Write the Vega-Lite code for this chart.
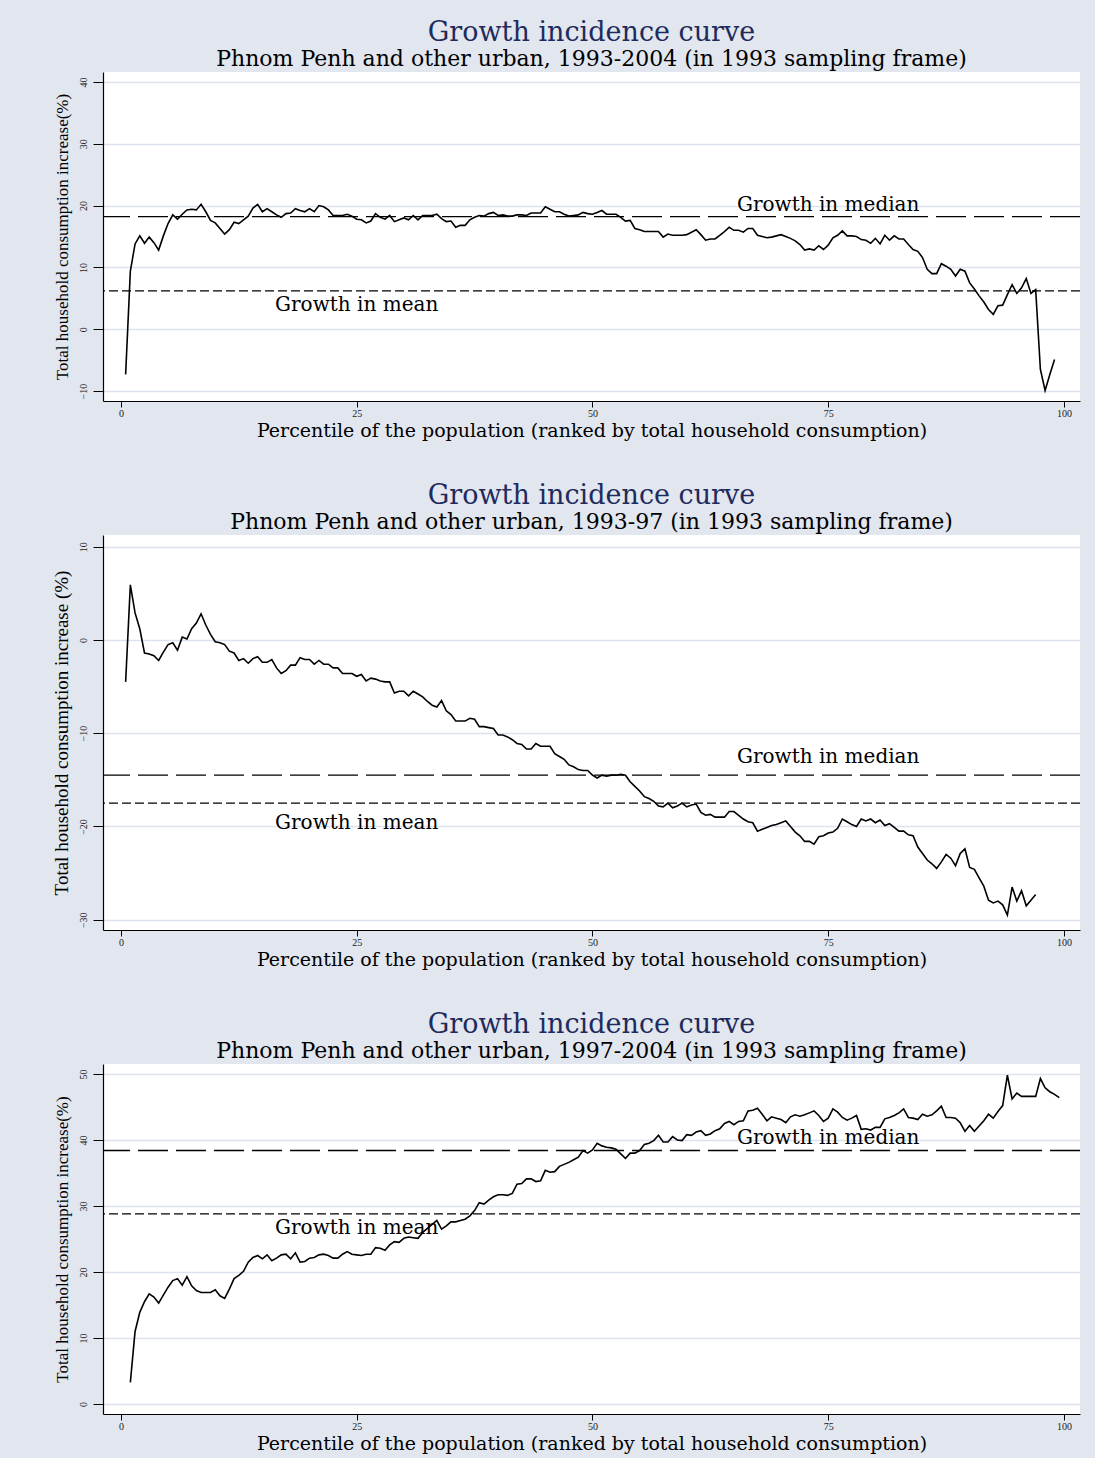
{
  "$schema": "https://vega.github.io/schema/vega-lite/v6.json",
  "background": "#e1e6ef",
  "padding": {"left": 52, "top": 19, "right": 14, "bottom": 5},
  "spacing": 42,
  "datasets": {
    "gic_9304": [
      {"p":0.5,"g":-7.3},{"p":1,"g":9.4},{"p":1.5,"g":13.8},{"p":2,"g":15.1},{"p":2.5,"g":13.9},{"p":3,"g":14.9},{"p":3.5,"g":14.0},{"p":4,"g":12.8},{"p":4.5,"g":15.1},{"p":5,"g":17.1},
      {"p":5.5,"g":18.5},{"p":6,"g":17.8},{"p":6.5,"g":18.6},{"p":7,"g":19.3},{"p":7.5,"g":19.4},{"p":8,"g":19.3},{"p":8.5,"g":20.2},{"p":9,"g":19.0},{"p":9.5,"g":17.6},{"p":10,"g":17.2},
      {"p":10.5,"g":16.3},{"p":11,"g":15.4},{"p":11.5,"g":16.1},{"p":12,"g":17.3},{"p":12.5,"g":17.1},{"p":13,"g":17.7},{"p":13.5,"g":18.3},{"p":14,"g":19.6},{"p":14.5,"g":20.2},{"p":15,"g":19.0},
      {"p":15.5,"g":19.5},{"p":16,"g":19.0},{"p":16.5,"g":18.5},{"p":17,"g":18.1},{"p":17.5,"g":18.7},{"p":18,"g":18.8},{"p":18.5,"g":19.5},{"p":19,"g":19.2},{"p":19.5,"g":19.0},{"p":20,"g":19.5},
      {"p":20.5,"g":19.0},{"p":21,"g":20.0},{"p":21.5,"g":19.8},{"p":22,"g":19.3},{"p":22.5,"g":18.4},{"p":23,"g":18.4},{"p":23.5,"g":18.4},{"p":24,"g":18.6},{"p":24.5,"g":18.3},{"p":25,"g":17.8},
      {"p":25.5,"g":17.7},{"p":26,"g":17.2},{"p":26.5,"g":17.5},{"p":27,"g":18.7},{"p":27.5,"g":18.1},{"p":28,"g":17.8},{"p":28.5,"g":18.4},{"p":29,"g":17.4},{"p":29.5,"g":17.7},{"p":30,"g":18.0},
      {"p":30.5,"g":17.7},{"p":31,"g":18.4},{"p":31.5,"g":17.7},{"p":32,"g":18.4},{"p":32.5,"g":18.4},{"p":33,"g":18.4},{"p":33.5,"g":18.6},{"p":34,"g":17.9},{"p":34.5,"g":17.4},{"p":35,"g":17.5},
      {"p":35.5,"g":16.5},{"p":36,"g":16.8},{"p":36.5,"g":16.8},{"p":37,"g":17.7},{"p":37.5,"g":18.1},{"p":38,"g":18.4},{"p":38.5,"g":18.3},{"p":39,"g":18.7},{"p":39.5,"g":18.9},{"p":40,"g":18.4},
      {"p":40.5,"g":18.5},{"p":41,"g":18.3},{"p":41.5,"g":18.3},{"p":42,"g":18.5},{"p":42.5,"g":18.5},{"p":43,"g":18.4},{"p":43.5,"g":18.8},{"p":44,"g":18.8},{"p":44.5,"g":18.8},{"p":45,"g":19.8},
      {"p":45.5,"g":19.4},{"p":46,"g":19.0},{"p":46.5,"g":19.0},{"p":47,"g":18.6},{"p":47.5,"g":18.3},{"p":48,"g":18.4},{"p":48.5,"g":18.5},{"p":49,"g":18.9},{"p":49.5,"g":18.7},{"p":50,"g":18.6},
      {"p":50.5,"g":18.9},{"p":51,"g":19.2},{"p":51.5,"g":18.6},{"p":52,"g":18.6},{"p":52.5,"g":18.6},{"p":53,"g":18.1},{"p":53.5,"g":17.5},{"p":54,"g":17.6},{"p":54.5,"g":16.3},{"p":55,"g":16.1},
      {"p":55.5,"g":15.8},{"p":56,"g":15.8},{"p":56.5,"g":15.8},{"p":57,"g":15.8},{"p":57.5,"g":14.9},{"p":58,"g":15.4},{"p":58.5,"g":15.2},{"p":59,"g":15.2},{"p":59.5,"g":15.2},{"p":60,"g":15.3},
      {"p":60.5,"g":15.7},{"p":61,"g":16.1},{"p":61.5,"g":15.3},{"p":62,"g":14.4},{"p":62.5,"g":14.6},{"p":63,"g":14.6},{"p":63.5,"g":15.2},{"p":64,"g":15.8},{"p":64.5,"g":16.5},{"p":65,"g":16.0},
      {"p":65.5,"g":16.0},{"p":66,"g":15.7},{"p":66.5,"g":16.3},{"p":67,"g":16.3},{"p":67.5,"g":15.2},{"p":68,"g":15.0},{"p":68.5,"g":14.8},{"p":69,"g":14.9},{"p":69.5,"g":15.1},{"p":70,"g":15.3},
      {"p":70.5,"g":15.0},{"p":71,"g":14.7},{"p":71.5,"g":14.3},{"p":72,"g":13.7},{"p":72.5,"g":12.8},{"p":73,"g":13.0},{"p":73.5,"g":12.8},{"p":74,"g":13.5},{"p":74.5,"g":12.9},{"p":75,"g":13.6},
      {"p":75.5,"g":14.8},{"p":76,"g":15.2},{"p":76.5,"g":15.9},{"p":77,"g":15.1},{"p":77.5,"g":15.1},{"p":78,"g":15.0},{"p":78.5,"g":14.5},{"p":79,"g":14.4},{"p":79.5,"g":13.9},{"p":80,"g":14.7},
      {"p":80.5,"g":13.8},{"p":81,"g":15.2},{"p":81.5,"g":14.4},{"p":82,"g":15.1},{"p":82.5,"g":14.6},{"p":83,"g":14.6},{"p":83.5,"g":13.7},{"p":84,"g":12.9},{"p":84.5,"g":12.6},{"p":85,"g":11.6},
      {"p":85.5,"g":9.7},{"p":86,"g":9.0},{"p":86.5,"g":9.0},{"p":87,"g":10.6},{"p":87.5,"g":10.2},{"p":88,"g":9.7},{"p":88.5,"g":8.6},{"p":89,"g":9.7},{"p":89.5,"g":9.4},{"p":90,"g":7.5},
      {"p":90.5,"g":6.5},{"p":91,"g":5.4},{"p":91.5,"g":4.4},{"p":92,"g":3.2},{"p":92.5,"g":2.4},{"p":93,"g":3.8},{"p":93.5,"g":3.9},{"p":94,"g":5.6},{"p":94.5,"g":7.2},{"p":95,"g":5.8},
      {"p":95.5,"g":6.7},{"p":96,"g":8.2},{"p":96.5,"g":5.8},{"p":97,"g":6.4},{"p":97.5,"g":-6.5},{"p":98,"g":-9.9},{"p":98.5,"g":-7.3},{"p":99,"g":-4.9}
    ],
    "gic_9397": [
      {"p":0.5,"g":-4.5},{"p":1,"g":5.9},{"p":1.5,"g":2.9},{"p":2,"g":1.2},{"p":2.5,"g":-1.4},{"p":3,"g":-1.5},{"p":3.5,"g":-1.7},{"p":4,"g":-2.2},{"p":4.5,"g":-1.3},{"p":5,"g":-0.5},
      {"p":5.5,"g":-0.3},{"p":6,"g":-1.1},{"p":6.5,"g":0.3},{"p":7,"g":0.1},{"p":7.5,"g":1.2},{"p":8,"g":1.8},{"p":8.5,"g":2.8},{"p":9,"g":1.6},{"p":9.5,"g":0.6},{"p":10,"g":-0.2},
      {"p":10.5,"g":-0.3},{"p":11,"g":-0.5},{"p":11.5,"g":-1.2},{"p":12,"g":-1.4},{"p":12.5,"g":-2.2},{"p":13,"g":-2.0},{"p":13.5,"g":-2.5},{"p":14,"g":-2.0},{"p":14.5,"g":-1.8},{"p":15,"g":-2.4},
      {"p":15.5,"g":-2.4},{"p":16,"g":-2.1},{"p":16.5,"g":-3.0},{"p":17,"g":-3.6},{"p":17.5,"g":-3.3},{"p":18,"g":-2.7},{"p":18.5,"g":-2.7},{"p":19,"g":-1.9},{"p":19.5,"g":-2.1},{"p":20,"g":-2.1},
      {"p":20.5,"g":-2.6},{"p":21,"g":-2.2},{"p":21.5,"g":-2.6},{"p":22,"g":-2.6},{"p":22.5,"g":-3.0},{"p":23,"g":-3.0},{"p":23.5,"g":-3.6},{"p":24,"g":-3.6},{"p":24.5,"g":-3.6},{"p":25,"g":-3.9},
      {"p":25.5,"g":-3.7},{"p":26,"g":-4.4},{"p":26.5,"g":-4.1},{"p":27,"g":-4.2},{"p":27.5,"g":-4.4},{"p":28,"g":-4.5},{"p":28.5,"g":-4.5},{"p":29,"g":-5.7},{"p":29.5,"g":-5.5},{"p":30,"g":-5.5},
      {"p":30.5,"g":-6.0},{"p":31,"g":-5.5},{"p":31.5,"g":-5.8},{"p":32,"g":-6.1},{"p":32.5,"g":-6.6},{"p":33,"g":-7.0},{"p":33.5,"g":-7.2},{"p":34,"g":-6.5},{"p":34.5,"g":-7.6},{"p":35,"g":-8.0},
      {"p":35.5,"g":-8.7},{"p":36,"g":-8.7},{"p":36.5,"g":-8.7},{"p":37,"g":-8.4},{"p":37.5,"g":-8.5},{"p":38,"g":-9.3},{"p":38.5,"g":-9.3},{"p":39,"g":-9.4},{"p":39.5,"g":-9.5},{"p":40,"g":-10.2},
      {"p":40.5,"g":-10.2},{"p":41,"g":-10.4},{"p":41.5,"g":-10.7},{"p":42,"g":-11.1},{"p":42.5,"g":-11.2},{"p":43,"g":-11.7},{"p":43.5,"g":-11.7},{"p":44,"g":-11.1},{"p":44.5,"g":-11.4},{"p":45,"g":-11.4},
      {"p":45.5,"g":-11.4},{"p":46,"g":-12.2},{"p":46.5,"g":-12.5},{"p":47,"g":-12.8},{"p":47.5,"g":-13.4},{"p":48,"g":-13.6},{"p":48.5,"g":-13.9},{"p":49,"g":-14.0},{"p":49.5,"g":-14.0},{"p":50,"g":-14.5},
      {"p":50.5,"g":-14.8},{"p":51,"g":-14.5},{"p":51.5,"g":-14.6},{"p":52,"g":-14.5},{"p":52.5,"g":-14.5},{"p":53,"g":-14.4},{"p":53.5,"g":-14.5},{"p":54,"g":-15.2},{"p":54.5,"g":-15.7},{"p":55,"g":-16.2},
      {"p":55.5,"g":-16.8},{"p":56,"g":-17.0},{"p":56.5,"g":-17.3},{"p":57,"g":-17.8},{"p":57.5,"g":-17.9},{"p":58,"g":-17.5},{"p":58.5,"g":-18.0},{"p":59,"g":-17.8},{"p":59.5,"g":-17.5},{"p":60,"g":-17.9},
      {"p":60.5,"g":-17.7},{"p":61,"g":-17.6},{"p":61.5,"g":-18.5},{"p":62,"g":-18.8},{"p":62.5,"g":-18.7},{"p":63,"g":-19.0},{"p":63.5,"g":-19.0},{"p":64,"g":-19.0},{"p":64.5,"g":-18.4},{"p":65,"g":-18.4},
      {"p":65.5,"g":-18.8},{"p":66,"g":-19.2},{"p":66.5,"g":-19.5},{"p":67,"g":-19.6},{"p":67.5,"g":-20.5},{"p":68,"g":-20.3},{"p":68.5,"g":-20.1},{"p":69,"g":-19.9},{"p":69.5,"g":-19.8},{"p":70,"g":-19.6},
      {"p":70.5,"g":-19.4},{"p":71,"g":-20.0},{"p":71.5,"g":-20.6},{"p":72,"g":-21.0},{"p":72.5,"g":-21.6},{"p":73,"g":-21.6},{"p":73.5,"g":-21.9},{"p":74,"g":-21.1},{"p":74.5,"g":-21.0},{"p":75,"g":-20.7},
      {"p":75.5,"g":-20.6},{"p":76,"g":-20.2},{"p":76.5,"g":-19.2},{"p":77,"g":-19.5},{"p":77.5,"g":-19.8},{"p":78,"g":-20.0},{"p":78.5,"g":-19.2},{"p":79,"g":-19.4},{"p":79.5,"g":-19.2},{"p":80,"g":-19.6},
      {"p":80.5,"g":-19.3},{"p":81,"g":-19.9},{"p":81.5,"g":-19.7},{"p":82,"g":-20.1},{"p":82.5,"g":-20.5},{"p":83,"g":-20.5},{"p":83.5,"g":-20.9},{"p":84,"g":-21.0},{"p":84.5,"g":-22.2},{"p":85,"g":-22.9},
      {"p":85.5,"g":-23.6},{"p":86,"g":-24.0},{"p":86.5,"g":-24.5},{"p":87,"g":-23.8},{"p":87.5,"g":-23.0},{"p":88,"g":-23.4},{"p":88.5,"g":-24.2},{"p":89,"g":-22.9},{"p":89.5,"g":-22.4},{"p":90,"g":-24.4},
      {"p":90.5,"g":-24.6},{"p":91,"g":-25.5},{"p":91.5,"g":-26.4},{"p":92,"g":-27.9},{"p":92.5,"g":-28.2},{"p":93,"g":-28.0},{"p":93.5,"g":-28.4},{"p":94,"g":-29.5},{"p":94.5,"g":-26.5},{"p":95,"g":-28.0},
      {"p":95.5,"g":-26.9},{"p":96,"g":-28.5},{"p":96.5,"g":-27.9},{"p":97,"g":-27.3}
    ],
    "gic_9704": [
      {"p":1,"g":3.3},{"p":1.5,"g":11.0},{"p":2,"g":13.9},{"p":2.5,"g":15.5},{"p":3,"g":16.7},{"p":3.5,"g":16.2},{"p":4,"g":15.3},{"p":4.5,"g":16.5},{"p":5,"g":17.7},
      {"p":5.5,"g":18.7},{"p":6,"g":19.0},{"p":6.5,"g":18.0},{"p":7,"g":19.3},{"p":7.5,"g":17.9},{"p":8,"g":17.2},{"p":8.5,"g":16.9},{"p":9,"g":16.9},{"p":9.5,"g":16.9},{"p":10,"g":17.3},
      {"p":10.5,"g":16.4},{"p":11,"g":16.0},{"p":11.5,"g":17.4},{"p":12,"g":19.0},{"p":12.5,"g":19.5},{"p":13,"g":20.1},{"p":13.5,"g":21.5},{"p":14,"g":22.2},{"p":14.5,"g":22.5},{"p":15,"g":22.0},
      {"p":15.5,"g":22.6},{"p":16,"g":21.7},{"p":16.5,"g":22.1},{"p":17,"g":22.6},{"p":17.5,"g":22.7},{"p":18,"g":22.0},{"p":18.5,"g":22.9},{"p":19,"g":21.5},{"p":19.5,"g":21.6},{"p":20,"g":22.1},
      {"p":20.5,"g":22.2},{"p":21,"g":22.6},{"p":21.5,"g":22.7},{"p":22,"g":22.5},{"p":22.5,"g":22.1},{"p":23,"g":22.1},{"p":23.5,"g":22.7},{"p":24,"g":23.1},{"p":24.5,"g":22.7},{"p":25,"g":22.6},
      {"p":25.5,"g":22.5},{"p":26,"g":22.7},{"p":26.5,"g":22.7},{"p":27,"g":23.7},{"p":27.5,"g":23.6},{"p":28,"g":23.3},{"p":28.5,"g":24.1},{"p":29,"g":24.6},{"p":29.5,"g":24.5},{"p":30,"g":25.1},
      {"p":30.5,"g":25.3},{"p":31,"g":25.2},{"p":31.5,"g":25.1},{"p":32,"g":26.0},{"p":32.5,"g":26.6},{"p":33,"g":27.2},{"p":33.5,"g":27.8},{"p":34,"g":26.5},{"p":34.5,"g":27.0},{"p":35,"g":27.6},
      {"p":35.5,"g":27.6},{"p":36,"g":27.8},{"p":36.5,"g":28.0},{"p":37,"g":28.5},{"p":37.5,"g":29.3},{"p":38,"g":30.5},{"p":38.5,"g":30.3},{"p":39,"g":30.9},{"p":39.5,"g":31.4},{"p":40,"g":31.7},
      {"p":40.5,"g":31.7},{"p":41,"g":31.6},{"p":41.5,"g":31.9},{"p":42,"g":33.3},{"p":42.5,"g":33.4},{"p":43,"g":34.1},{"p":43.5,"g":34.1},{"p":44,"g":33.7},{"p":44.5,"g":33.8},{"p":45,"g":35.4},
      {"p":45.5,"g":35.1},{"p":46,"g":35.2},{"p":46.5,"g":36.0},{"p":47,"g":36.3},{"p":47.5,"g":36.6},{"p":48,"g":37.0},{"p":48.5,"g":37.4},{"p":49,"g":38.4},{"p":49.5,"g":38.0},{"p":50,"g":38.5},
      {"p":50.5,"g":39.5},{"p":51,"g":39.1},{"p":51.5,"g":38.9},{"p":52,"g":38.8},{"p":52.5,"g":38.6},{"p":53,"g":37.9},{"p":53.5,"g":37.2},{"p":54,"g":38.0},{"p":54.5,"g":38.0},{"p":55,"g":38.4},
      {"p":55.5,"g":39.3},{"p":56,"g":39.5},{"p":56.5,"g":39.9},{"p":57,"g":40.7},{"p":57.5,"g":39.7},{"p":58,"g":39.7},{"p":58.5,"g":40.5},{"p":59,"g":40.0},{"p":59.5,"g":39.9},{"p":60,"g":40.8},
      {"p":60.5,"g":40.7},{"p":61,"g":41.2},{"p":61.5,"g":41.4},{"p":62,"g":40.7},{"p":62.5,"g":40.9},{"p":63,"g":41.4},{"p":63.5,"g":41.7},{"p":64,"g":42.5},{"p":64.5,"g":42.8},{"p":65,"g":42.3},
      {"p":65.5,"g":42.8},{"p":66,"g":42.9},{"p":66.5,"g":44.4},{"p":67,"g":44.5},{"p":67.5,"g":44.8},{"p":68,"g":43.9},{"p":68.5,"g":42.9},{"p":69,"g":43.5},{"p":69.5,"g":43.3},{"p":70,"g":43.1},
      {"p":70.5,"g":42.6},{"p":71,"g":43.5},{"p":71.5,"g":43.8},{"p":72,"g":43.6},{"p":72.5,"g":43.8},{"p":73,"g":44.1},{"p":73.5,"g":44.4},{"p":74,"g":43.7},{"p":74.5,"g":42.8},{"p":75,"g":43.3},
      {"p":75.5,"g":44.7},{"p":76,"g":44.2},{"p":76.5,"g":43.4},{"p":77,"g":43.0},{"p":77.5,"g":43.3},{"p":78,"g":43.7},{"p":78.5,"g":41.6},{"p":79,"g":41.7},{"p":79.5,"g":41.5},{"p":80,"g":41.9},
      {"p":80.5,"g":41.9},{"p":81,"g":43.2},{"p":81.5,"g":43.4},{"p":82,"g":43.7},{"p":82.5,"g":44.1},{"p":83,"g":44.7},{"p":83.5,"g":43.4},{"p":84,"g":43.3},{"p":84.5,"g":43.1},{"p":85,"g":43.9},
      {"p":85.5,"g":43.6},{"p":86,"g":43.8},{"p":86.5,"g":44.4},{"p":87,"g":45.1},{"p":87.5,"g":43.4},{"p":88,"g":43.4},{"p":88.5,"g":43.3},{"p":89,"g":42.6},{"p":89.5,"g":41.3},{"p":90,"g":42.2},
      {"p":90.5,"g":41.3},{"p":91,"g":42.1},{"p":91.5,"g":42.9},{"p":92,"g":43.9},{"p":92.5,"g":43.3},{"p":93,"g":44.3},{"p":93.5,"g":45.2},{"p":94,"g":49.8},{"p":94.5,"g":46.2},{"p":95,"g":47.1},
      {"p":95.5,"g":46.6},{"p":96,"g":46.6},{"p":96.5,"g":46.6},{"p":97,"g":46.6},{"p":97.5,"g":49.3},{"p":98,"g":47.9},{"p":98.5,"g":47.3},{"p":99,"g":46.9},{"p":99.5,"g":46.4}
    ]
  },
  "vconcat": [
    {
      "width": 977,
      "height": 329,
      "title": {"text": "Growth incidence curve", "subtitle": "Phnom Penh and other urban, 1993-2004 (in 1993 sampling frame)"},
      "layer": [
        {
          "data": {"name": "gic_9304"},
          "mark": {"type": "line", "color": "black", "strokeWidth": 1.6},
          "encoding": {
            "x": {"field": "p", "type": "quantitative", "title": "Percentile of the population (ranked by total household consumption)", "scale": {"domain": [-1.9, 101.7], "nice": false, "zero": false}, "axis": {"values": [0, 25, 50, 75, 100]}},
            "y": {"field": "g", "type": "quantitative", "title": "Total household consumption increase(%)", "scale": {"domain": [-11.6, 41.6], "nice": false, "zero": false}, "axis": {"values": [-10, 0, 10, 20, 30, 40]}}
          }
        },
        {
          "data": {"values": [{"g": 18.2}]},
          "mark": {"type": "rule", "color": "black", "strokeWidth": 1.3, "strokeDash": [30, 8]},
          "encoding": {"y": {"field": "g", "type": "quantitative", "scale": {"domain": [-11.6, 41.6], "nice": false, "zero": false}}}
        },
        {
          "data": {"values": [{"g": 6.2}]},
          "mark": {"type": "rule", "color": "black", "strokeWidth": 1.3, "strokeDash": [9, 4]},
          "encoding": {"y": {"field": "g", "type": "quantitative", "scale": {"domain": [-11.6, 41.6], "nice": false, "zero": false}}}
        },
        {
          "data": {"values": [{"p": 75, "g": 20.1, "label": "Growth in median"}, {"p": 25, "g": 3.9, "label": "Growth in mean"}]},
          "mark": {"type": "text", "font": "DejaVu Serif", "fontSize": 20, "color": "black", "align": "center", "baseline": "middle"},
          "encoding": {
            "x": {"field": "p", "type": "quantitative", "scale": {"domain": [-1.9, 101.7], "nice": false, "zero": false}},
            "y": {"field": "g", "type": "quantitative", "scale": {"domain": [-11.6, 41.6], "nice": false, "zero": false}},
            "text": {"field": "label"}
          }
        }
      ]
    },
    {
      "width": 977,
      "height": 395,
      "title": {"text": "Growth incidence curve", "subtitle": "Phnom Penh and other urban, 1993-97 (in 1993 sampling frame)"},
      "layer": [
        {
          "data": {"name": "gic_9397"},
          "mark": {"type": "line", "color": "black", "strokeWidth": 1.6},
          "encoding": {
            "x": {"field": "p", "type": "quantitative", "title": "Percentile of the population (ranked by total household consumption)", "scale": {"domain": [-1.9, 101.7], "nice": false, "zero": false}, "axis": {"values": [0, 25, 50, 75, 100]}},
            "y": {"field": "g", "type": "quantitative", "title": "Total household consumption increase (%)", "scale": {"domain": [-31.1, 11.25], "nice": false, "zero": false}, "axis": {"values": [-30, -20, -10, 0, 10], "titleFontSize": 19}}
          }
        },
        {
          "data": {"values": [{"g": -14.5}]},
          "mark": {"type": "rule", "color": "black", "strokeWidth": 1.3, "strokeDash": [30, 8]},
          "encoding": {"y": {"field": "g", "type": "quantitative", "scale": {"domain": [-31.1, 11.25], "nice": false, "zero": false}}}
        },
        {
          "data": {"values": [{"g": -17.5}]},
          "mark": {"type": "rule", "color": "black", "strokeWidth": 1.3, "strokeDash": [9, 4]},
          "encoding": {"y": {"field": "g", "type": "quantitative", "scale": {"domain": [-31.1, 11.25], "nice": false, "zero": false}}}
        },
        {
          "data": {"values": [{"p": 75, "g": -12.6, "label": "Growth in median"}, {"p": 25, "g": -19.65, "label": "Growth in mean"}]},
          "mark": {"type": "text", "font": "DejaVu Serif", "fontSize": 20, "color": "black", "align": "center", "baseline": "middle"},
          "encoding": {
            "x": {"field": "p", "type": "quantitative", "scale": {"domain": [-1.9, 101.7], "nice": false, "zero": false}},
            "y": {"field": "g", "type": "quantitative", "scale": {"domain": [-31.1, 11.25], "nice": false, "zero": false}},
            "text": {"field": "label"}
          }
        }
      ]
    },
    {
      "width": 977,
      "height": 350,
      "title": {"text": "Growth incidence curve", "subtitle": "Phnom Penh and other urban, 1997-2004 (in 1993 sampling frame)"},
      "layer": [
        {
          "data": {"name": "gic_9704"},
          "mark": {"type": "line", "color": "black", "strokeWidth": 1.6},
          "encoding": {
            "x": {"field": "p", "type": "quantitative", "title": "Percentile of the population (ranked by total household consumption)", "scale": {"domain": [-1.9, 101.7], "nice": false, "zero": false}, "axis": {"values": [0, 25, 50, 75, 100]}},
            "y": {"field": "g", "type": "quantitative", "title": "Total household consumption increase(%)", "scale": {"domain": [-1.5, 51.5], "nice": false, "zero": false}, "axis": {"values": [0, 10, 20, 30, 40, 50]}}
          }
        },
        {
          "data": {"values": [{"g": 38.4}]},
          "mark": {"type": "rule", "color": "black", "strokeWidth": 1.3, "strokeDash": [30, 8]},
          "encoding": {"y": {"field": "g", "type": "quantitative", "scale": {"domain": [-1.5, 51.5], "nice": false, "zero": false}}}
        },
        {
          "data": {"values": [{"g": 28.8}]},
          "mark": {"type": "rule", "color": "black", "strokeWidth": 1.3, "strokeDash": [9, 4]},
          "encoding": {"y": {"field": "g", "type": "quantitative", "scale": {"domain": [-1.5, 51.5], "nice": false, "zero": false}}}
        },
        {
          "data": {"values": [{"p": 75, "g": 40.25, "label": "Growth in median"}, {"p": 25, "g": 26.7, "label": "Growth in mean"}]},
          "mark": {"type": "text", "font": "DejaVu Serif", "fontSize": 20, "color": "black", "align": "center", "baseline": "middle"},
          "encoding": {
            "x": {"field": "p", "type": "quantitative", "scale": {"domain": [-1.9, 101.7], "nice": false, "zero": false}},
            "y": {"field": "g", "type": "quantitative", "scale": {"domain": [-1.5, 51.5], "nice": false, "zero": false}},
            "text": {"field": "label"}
          }
        }
      ]
    }
  ],
  "config": {
    "view": {"fill": "white", "stroke": null},
    "title": {"font": "DejaVu Serif", "fontSize": 27, "fontWeight": "normal", "color": "#1e2b5c", "subtitleFont": "DejaVu Serif", "subtitleFontSize": 22, "subtitleColor": "black", "subtitlePadding": 2, "offset": 1, "anchor": "middle", "frame": "group"},
    "axis": {"domainColor": "black", "domainWidth": 1.2, "tickColor": "black", "tickWidth": 1, "labelColor": "#222", "labelFont": "Liberation Serif", "titleColor": "black", "titleFontWeight": "normal"},
    "axisX": {"grid": false, "tickSize": 6, "labelFontSize": 10, "labelPadding": 1, "titleFont": "DejaVu Serif", "titleFontSize": 19, "titlePadding": 3},
    "axisY": {"grid": true, "gridColor": "#dde3ee", "gridWidth": 1.5, "tickSize": 10, "labelFontSize": 10, "labelAngle": -90, "labelAlign": "center", "labelBaseline": "bottom", "labelPadding": 5, "titleFont": "Liberation Serif", "titleFontSize": 17, "titlePadding": 7}
  }
}
